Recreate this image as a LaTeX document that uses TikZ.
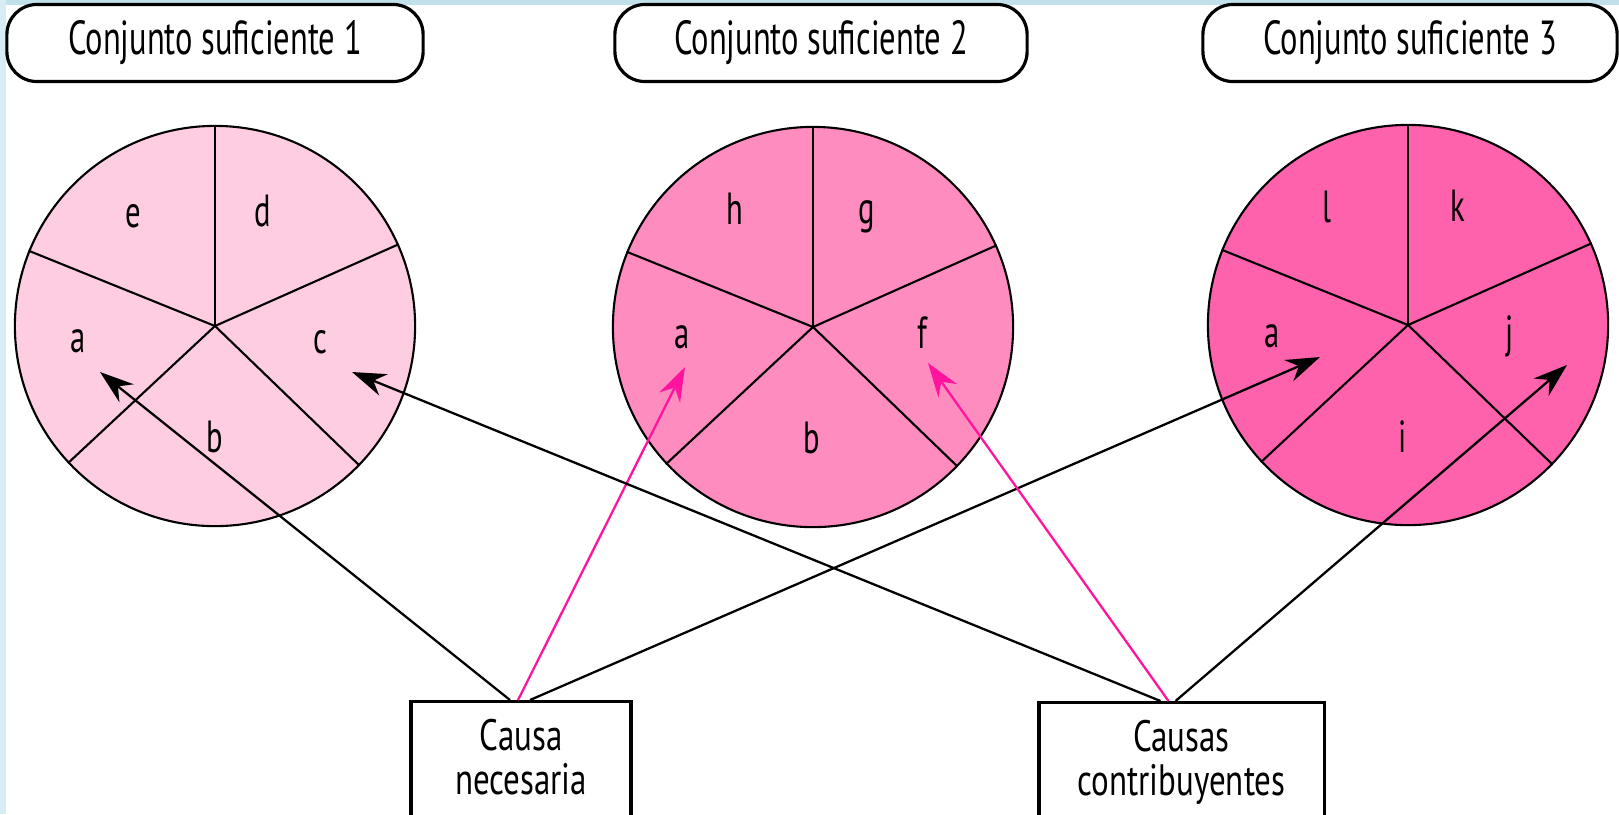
\documentclass[tikz,border=0pt]{standalone}
\usepackage{fontspec}
\newfontfamily\condsans[FakeStretch=0.68]{PT Sans}
\newfontfamily\causesans[FakeStretch=0.75]{PT Sans}
\usetikzlibrary{arrows.meta,positioning,calc}
\definecolor{frametop}{RGB}{192,225,233}
\definecolor{frameleft}{RGB}{216,236,244}
\definecolor{setone}{RGB}{255,205,225}
\definecolor{settwo}{RGB}{255,140,190}
\definecolor{setthree}{RGB}{255,98,172}
\definecolor{causepink}{RGB}{255,20,160}

\begin{document}
\begin{tikzpicture}[
  x=0.01cm, y=-0.01cm,
  setlabel/.style={draw, rounded corners=0.3cm, line width=0.9pt, minimum height=0.77cm, inner sep=0pt, font=\condsans\fontsize{13.6}{15}\selectfont},
  pie/.style={circle, draw, line width=0.6pt, minimum size=4cm, inner sep=0pt},
  part/.style={anchor=base, inner sep=0pt, font=\condsans\fontsize{12.8}{14}\selectfont},
  causebox/.style={draw, anchor=north, line width=0.9pt, align=center, inner ysep=0.18cm, text depth=0.25cm, font=\causesans\fontsize{12.5}{12.3}\selectfont},
  link/.style={line width=0.65pt, -{Stealth[length=3.4mm,width=2.3mm]}},
  pinklink/.style={link, causepink}
]
\useasboundingbox (0,0) rectangle (1619,814);
\fill[white] (0,0) rectangle (1619,814);
\fill[frametop] (0,0) rectangle (1619,5);
\fill[frameleft] (0,0) rectangle (6,814);

\node[setlabel, minimum width=4.16cm] (set1) at (215,43) {Conjunto suficiente 1};
\node[setlabel, minimum width=4.12cm] (set2) at (821,43) {Conjunto suficiente 2};
\node[setlabel, minimum width=4.14cm] (set3) at (1410,43) {Conjunto suficiente 3};

\foreach \k/\cx/\cy/\col in {1/215/326/setone, 2/813/327/settwo, 3/1408/325/setthree}{
  \node[pie, fill=\col] (c\k) at (\cx,\cy) {};
  \foreach \ang in {90,158,24,223,316}
    \draw[line width=0.6pt] (c\k.center) -- (c\k.\ang);
}

\node[part] (c1e) at (133,227) {e};
\node[part] (c1d) at (263,226) {d};
\node[part] (c1a) at (78,352) {a};
\node[part] (c1c) at (320,353) {c};
\node[part] (c1b) at (215,452) {b};

\node[part] (c2h) at (735,224) {h};
\node[part] (c2g) at (867,223) {g};
\node[part] (c2a) at (682,348) {a};
\node[part] (c2f) at (922,348) {f};
\node[part] (c2b) at (812,453) {b};

\node[part] (c3l) at (1327,222) {l};
\node[part] (c3k) at (1458,221) {k};
\node[part] (c3a) at (1272,347) {a};
\node[part] (c3j) at (1510,347) {j};
\node[part] (c3i) at (1403,452) {i};

\node[causebox, minimum width=2.2cm] (nec) at (521,700) {Causa\\necesaria};
\node[causebox, minimum width=2.85cm] (cnt) at (1181.5,701) {Causas\\contribuyentes};

\coordinate (t1a) at (100,372);
\coordinate (t1c) at (352,372);
\coordinate (t2a) at (685,367);
\coordinate (t2f) at (928,363);
\coordinate (t3a) at (1320,357);
\coordinate (t3j) at (1567,365);

\draw[link] ([xshift=-0.11cm]nec.north) -- (t1a);
\draw[pinklink] ([xshift=-0.03cm]nec.north) -- (t2a);
\draw[link] ([xshift=0.09cm]nec.north) -- (t3a);
\draw[link] ([xshift=-0.21cm]cnt.north) -- (t1c);
\draw[pinklink] ([xshift=-0.13cm]cnt.north) -- (t2f);
\draw[link] ([xshift=-0.06cm]cnt.north) -- (t3j);
\end{tikzpicture}
\end{document}
